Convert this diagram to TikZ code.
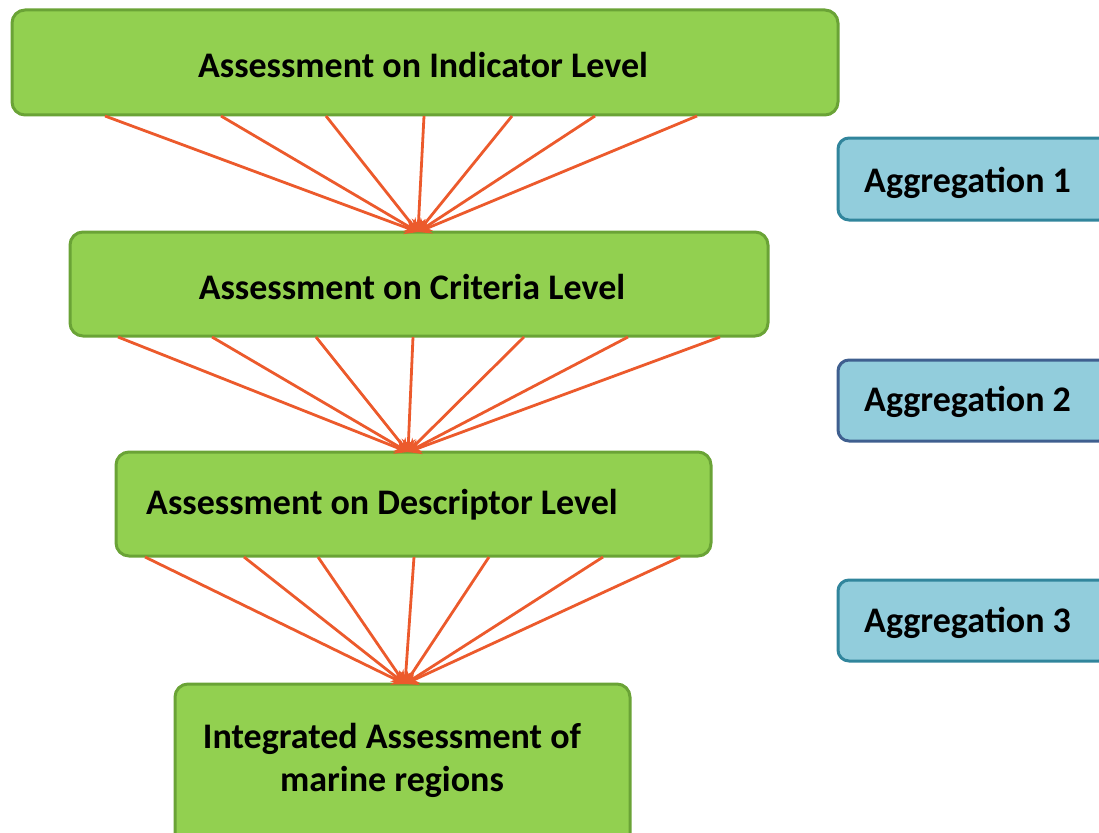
\documentclass[tikz,border=0pt]{standalone}
\usepackage{fontspec}
\setmainfont{Carlito}
\usetikzlibrary{arrows.meta}
\definecolor{gfill}{HTML}{92D050}
\definecolor{gborder}{HTML}{6AA336}
\definecolor{bfill}{HTML}{92CDDC}
\definecolor{bborder}{HTML}{31859C}
\definecolor{bborderdark}{HTML}{3F5F8F}
\definecolor{lineor}{HTML}{EC5A2C}
\tikzset{
  greenbox/.style={draw=gborder, fill=gfill, line width=3pt, rounded corners=13pt, inner sep=0pt},
  bluebox/.style={draw=bborder, fill=bfill, line width=3pt, rounded corners=11pt, inner sep=0pt},
  lbl/.style={font=\bfseries\fontsize{36}{43}\selectfont, text=black, inner sep=0pt, align=center},
  feed/.style={draw=lineor, line width=2.8pt, -{Stealth[length=13pt,width=14pt]}}
}
\begin{document}
\begin{tikzpicture}[x=1pt,y=-1pt]
\useasboundingbox (0,0) rectangle (1099,832);
% green boxes
\node[greenbox, minimum width=826pt, minimum height=105pt] (b1) at (425,62.5) {};
\node[greenbox, minimum width=698pt, minimum height=104pt] (b2) at (419,284) {};
\node[greenbox, minimum width=595pt, minimum height=104pt] (b3) at (413.5,504) {};
\node[greenbox, minimum width=455pt, minimum height=180pt] (b4) at (402.5,774) {};
\node[lbl] (t1) at (423,65) {Assessment on Indicator Level};
\node[lbl] (t2) at (412,287) {Assessment on Criteria Level};
\node[lbl] (t3) at (382,505) {Assessment on Descriptor Level};
\node[lbl] (t4) at (392,760) {Integrated Assessment of\\marine regions};
% blue boxes
\node[bluebox, minimum width=272pt, minimum height=82pt] (a1) at (974,179) {};
\node[bluebox, draw=bborderdark, minimum width=272pt, minimum height=81pt] (a2) at (974,400.5) {};
\node[bluebox, minimum width=272pt, minimum height=81pt] (a3) at (974,620.5) {};
\node[lbl, anchor=west] (at1) at (864,183) {Aggregation 1};
\node[lbl, anchor=west] (at2) at (864,402) {Aggregation 2};
\node[lbl, anchor=west] (at3) at (864,623) {Aggregation 3};
% convergence points
\coordinate (c1) at (418,232);
\coordinate (c2) at (408,452);
\coordinate (c3) at (405,684);
% start points
\foreach \x [count=\i] in {105,221,326,424,512,595,697} {
  \coordinate (s1\i) at (\x,116);
  \draw[feed] (s1\i) -- (c1);
}
\foreach \x [count=\i] in {118,212,316,413,524,628,720} {
  \coordinate (s2\i) at (\x,337);
  \draw[feed] (s2\i) -- (c2);
}
\foreach \x [count=\i] in {145,244,318,414,489,603,680} {
  \coordinate (s3\i) at (\x,557);
  \draw[feed] (s3\i) -- (c3);
}
\end{tikzpicture}
\end{document}
